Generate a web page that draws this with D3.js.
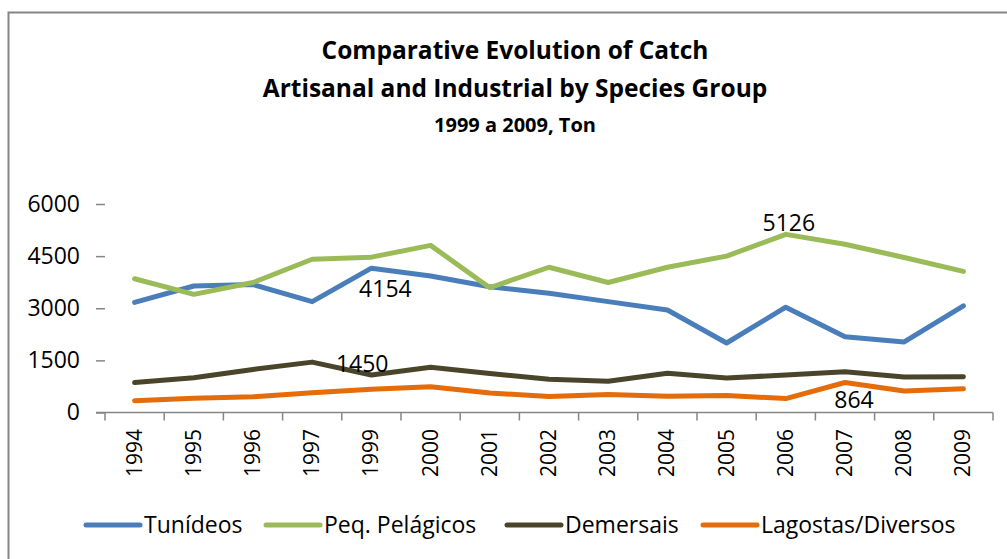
<!DOCTYPE html>
<html lang="en">
<head>
  <meta charset="UTF-8">
  <title>Comparative Evolution of Catch</title>
  <script src="https://d3js.org/d3.v7.min.js"></script>
  <style>
    body {
      margin: 0;
      padding: 0;
      background: #fff;
      font-family: "Open Sans", Arial, sans-serif;
      overflow: hidden;
    }
    text {
      fill: #000;
    }
  </style>
</head>
<body>
  <div id="chart"></div>

  <script>
    const years = ["1994", "1995", "1996", "1997", "1999", "2000", "2001", "2002",
                   "2003", "2004", "2005", "2006", "2007", "2008", "2009"];
    const seriesNames = ["Tunídeos", "Peq. Pelágicos", "Demersais", "Lagostas/Diversos"];
    const tunideos = [3170, 3640, 3680, 3190, 4154, 3930, 3620, 3430, 3190, 2950, 2000, 3030, 2180, 2030, 3070];
    const pelagicos = [3850, 3400, 3740, 4410, 4470, 4810, 3590, 4180, 3740, 4180, 4500, 5126, 4840, 4460, 4060];
    const demersais = [860, 1000, 1240, 1450, 1080, 1300, 1120, 960, 900, 1130, 990, 1080, 1170, 1020, 1030];
    const lagostas = [340, 410, 450, 570, 670, 740, 560, 460, 520, 470, 490, 400, 864, 620, 680];
    const yTicks = [0, 1500, 3000, 4500, 6000];
    const titleLines = ["Comparative Evolution of Catch", "Artisanal and Industrial by Species Group", "1999 a 2009, Ton"];
    // labelled points: series index, year index
    const labelled = [[0, 4], [2, 3], [1, 11], [3, 12]];

    const colors = ["#4a7ebb", "#9bbb59", "#4a452a", "#e46c0a"];
    const allSeries = [tunideos, pelagicos, demersais, lagostas];

    const width = 1007;
    const height = 559;

    const svg = d3.select("#chart")
                  .append("svg")
                  .attr("width", width)
                  .attr("height", height);

    // outer frame
    svg.append("rect")
       .attr("x", 8.5)
       .attr("y", 12.5)
       .attr("width", 1010)
       .attr("height", 560)
       .attr("fill", "none")
       .attr("stroke", "#868686")
       .attr("stroke-width", 2);

    // title
    const titleY = [59, 97, 132];
    const titleSize = [24.5, 24.5, 20];
    svg.selectAll(".title")
       .data(titleLines)
       .enter()
       .append("text")
       .attr("class", "title")
       .attr("x", 515)
       .attr("y", (d, i) => titleY[i])
       .attr("text-anchor", "middle")
       .attr("font-weight", "bold")
       .attr("font-size", (d, i) => titleSize[i])
       .text(d => d);

    const x = d3.scaleBand()
                .domain(years)
                .range([105, 993]);

    const y = d3.scaleLinear()
                .domain([0, 6000])
                .range([412.5, 204]);

    // y axis: tick marks and labels only
    const yAxis = svg.append("g")
       .attr("transform", "translate(105,0)")
       .call(d3.axisLeft(y).tickValues(yTicks).tickSize(9).tickPadding(16).tickFormat(d3.format("d")));
    yAxis.select(".domain").remove();
    yAxis.selectAll("line").attr("stroke", "#868686").attr("stroke-width", 1.5);
    yAxis.selectAll("text")
         .attr("font-size", 23)
         .attr("font-family", "Open Sans")
         .attr("fill", "#000");

    // x axis line with ticks at category boundaries
    const xg = svg.append("g");
    xg.append("line")
      .attr("x1", 96).attr("x2", 993)
      .attr("y1", y(0)).attr("y2", y(0))
      .attr("stroke", "#868686")
      .attr("stroke-width", 1.5);
    const bounds = years.map(d => x(d)).concat([x.range()[1]]);
    xg.selectAll(".xtick")
      .data(bounds)
      .enter()
      .append("line")
      .attr("class", "xtick")
      .attr("x1", d => d).attr("x2", d => d)
      .attr("y1", y(0)).attr("y2", y(0) + 8)
      .attr("stroke", "#868686")
      .attr("stroke-width", 1.5);

    xg.selectAll(".year")
      .data(years)
      .enter()
      .append("text")
      .attr("class", "year")
      .attr("transform", d => `translate(${x(d) + x.bandwidth() / 2 + 7},429) rotate(-90)`)
      .attr("text-anchor", "end")
      .attr("font-size", 21)
      .text(d => d);

    // lines
    const line = d3.line()
                   .x((d, i) => x(years[i]) + x.bandwidth() / 2)
                   .y(d => y(d));

    svg.selectAll(".series")
       .data(allSeries)
       .enter()
       .append("path")
       .attr("class", "series")
       .attr("d", d => line(d))
       .attr("fill", "none")
       .attr("stroke", (d, i) => colors[i])
       .attr("stroke-width", 5)
       .attr("stroke-linejoin", "round")
       .attr("stroke-linecap", "round");

    // data labels
    const labelOffsets = [[14, 29], [50, 10], [3, -3], [9, 26]];
    svg.selectAll(".dlabel")
       .data(labelled)
       .enter()
       .append("text")
       .attr("class", "dlabel")
       .attr("x", (d, k) => x(years[d[1]]) + x.bandwidth() / 2 + labelOffsets[k][0])
       .attr("y", (d, k) => y(allSeries[d[0]][d[1]]) + labelOffsets[k][1])
       .attr("text-anchor", "middle")
       .attr("font-size", 23)
       .text(d => allSeries[d[0]][d[1]]);

    // legend
    const legendX = [86, 266, 507, 703];
    const legend = svg.selectAll(".legend")
       .data(seriesNames)
       .enter()
       .append("g")
       .attr("class", "legend")
       .attr("transform", (d, i) => `translate(${legendX[i]},525)`);
    legend.append("line")
          .attr("x1", 0).attr("x2", 54)
          .attr("stroke", (d, i) => colors[i])
          .attr("stroke-width", 5)
          .attr("stroke-linecap", "round");
    legend.append("text")
          .attr("x", 58)
          .attr("y", 8)
          .attr("font-size", 23)
          .text(d => d);
  </script>
</body>
</html>
